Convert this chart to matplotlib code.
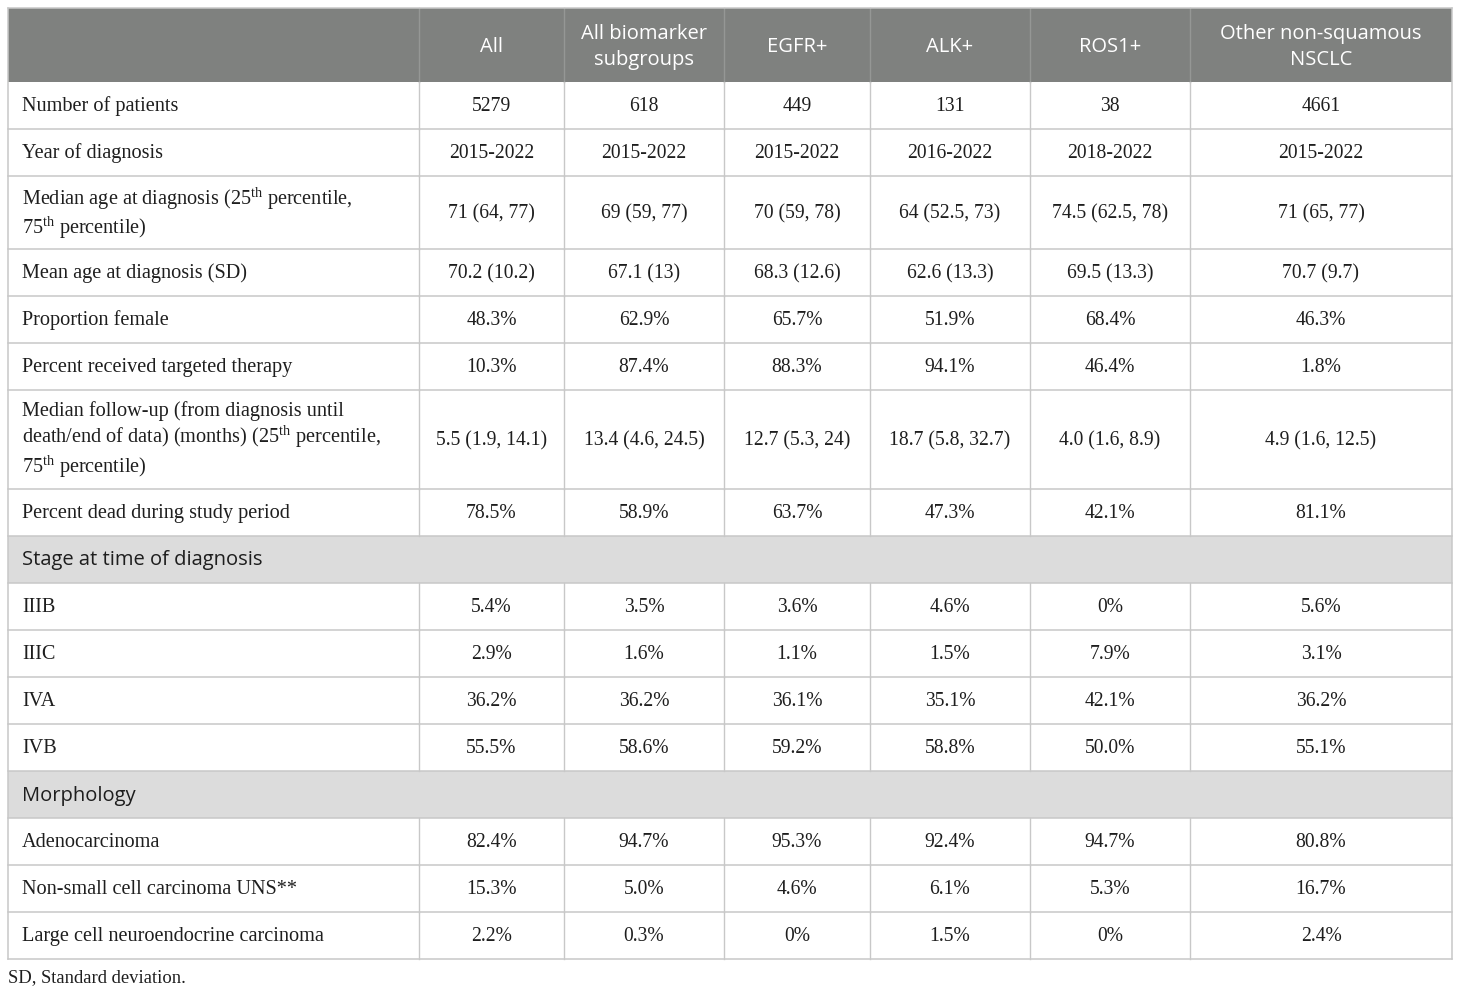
import matplotlib
matplotlib.use("Agg")
import matplotlib.pyplot as plt
from matplotlib.patches import Rectangle

plt.rcParams['mathtext.fontset'] = 'custom'
plt.rcParams['mathtext.rm'] = 'Liberation Serif'
plt.rcParams['mathtext.it'] = 'Liberation Serif:italic'

# ---------------- data ----------------
col_headers = ["All", "All biomarker\nsubgroups", "EGFR+", "ALK+", "ROS1+",
               "Other non-squamous\nNSCLC"]

row_labels = [
    "Number of patients",
    "Year of diagnosis",
    "Median age at diagnosis (25$^{\\mathrm{th}}$ percentile,\n75$^{\\mathrm{th}}$ percentile)",
    "Mean age at diagnosis (SD)",
    "Proportion female",
    "Percent received targeted therapy",
    "Median follow-up (from diagnosis until\ndeath/end of data) (months) (25$^{\\mathrm{th}}$ percentile,\n75$^{\\mathrm{th}}$ percentile)",
    "Percent dead during study period",
    "Stage at time of diagnosis",
    "IIIB",
    "IIIC",
    "IVA",
    "IVB",
    "Morphology",
    "Adenocarcinoma",
    "Non-small cell carcinoma UNS**",
    "Large cell neuroendocrine carcinoma",
]
section_rows = ["Stage at time of diagnosis", "Morphology"]

col_all = ["5279", "2015-2022", "71 (64, 77)", "70.2 (10.2)", "48.3%", "10.3%",
           "5.5 (1.9, 14.1)", "78.5%", None, "5.4%", "2.9%", "36.2%", "55.5%",
           None, "82.4%", "15.3%", "2.2%"]
col_biomarker = ["618", "2015-2022", "69 (59, 77)", "67.1 (13)", "62.9%", "87.4%",
                 "13.4 (4.6, 24.5)", "58.9%", None, "3.5%", "1.6%", "36.2%", "58.6%",
                 None, "94.7%", "5.0%", "0.3%"]
col_egfr = ["449", "2015-2022", "70 (59, 78)", "68.3 (12.6)", "65.7%", "88.3%",
            "12.7 (5.3, 24)", "63.7%", None, "3.6%", "1.1%", "36.1%", "59.2%",
            None, "95.3%", "4.6%", "0%"]
col_alk = ["131", "2016-2022", "64 (52.5, 73)", "62.6 (13.3)", "51.9%", "94.1%",
           "18.7 (5.8, 32.7)", "47.3%", None, "4.6%", "1.5%", "35.1%", "58.8%",
           None, "92.4%", "6.1%", "1.5%"]
col_ros1 = ["38", "2018-2022", "74.5 (62.5, 78)", "69.5 (13.3)", "68.4%", "46.4%",
            "4.0 (1.6, 8.9)", "42.1%", None, "0%", "7.9%", "42.1%", "50.0%",
            None, "94.7%", "5.3%", "0%"]
col_other = ["4661", "2015-2022", "71 (65, 77)", "70.7 (9.7)", "46.3%", "1.8%",
             "4.9 (1.6, 12.5)", "81.1%", None, "5.6%", "3.1%", "36.2%", "55.1%",
             None, "80.8%", "16.7%", "2.4%"]
columns = [col_all, col_biomarker, col_egfr, col_alk, col_ros1, col_other]

footnote = "SD, Standard deviation."

# ---------------- layout ----------------
W, H = 1460, 993
fig = plt.figure(figsize=(W / 100, H / 100), dpi=100)
ax = fig.add_axes([0, 0, 1, 1])
ax.set_xlim(0, W)
ax.set_ylim(H, 0)
ax.axis("off")

col_edges = [8, 419, 564, 724, 870, 1030, 1190, 1452]
top = 8
header_h = 74
line_h = 26
base_h = 21

header_bg = "#7f817f"
section_bg = "#dcdcdc"
grid_c = "#c8c8c8"
text_c = "#1e1e1e"
serif = "Liberation Serif"
sans = "Open Sans"
fs_label = 14.6
fs_value = 14.1
fs_head = 14.5

# header
ax.add_patch(Rectangle((col_edges[0], top), col_edges[-1] - col_edges[0], header_h,
                       facecolor=header_bg, edgecolor="none", zorder=1))
for i, h in enumerate(col_headers):
    cx = (col_edges[i + 1] + col_edges[i + 2]) / 2
    ax.text(cx, top + header_h / 2 + 2, h, ha="center", va="center", color="white",
            family=sans, fontsize=fs_head, linespacing=1.41, zorder=3)
for x in col_edges[1:-1]:
    ax.plot([x, x], [top, top + header_h], color="#959795", lw=1.0, zorder=2)

# body rows
y = top + header_h
row_bounds = [y]
for r, label in enumerate(row_labels):
    nlines = label.count("\n") + 1
    h = base_h + line_h * nlines
    cy = y + h / 2 + 1
    if label in section_rows:
        ax.add_patch(Rectangle((col_edges[0], y), col_edges[-1] - col_edges[0], h,
                               facecolor=section_bg, edgecolor="none", zorder=1))
        ax.text(col_edges[0] + 14, cy, label, ha="left", va="center", color=text_c,
                family=sans, fontsize=fs_head, zorder=3)
    else:
        ax.text(col_edges[0] + 14, cy, label, ha="left", va="center", color=text_c,
                family=serif, fontsize=fs_label, linespacing=1.17, zorder=3)
        for c, vals in enumerate(columns):
            cx = (col_edges[c + 1] + col_edges[c + 2]) / 2
            ax.text(cx, cy, vals[r], ha="center", va="center", color=text_c,
                    family=serif, fontsize=fs_value, zorder=3)
        for x in col_edges[1:-1]:
            ax.plot([x, x], [y, y + h], color=grid_c, lw=1.0, zorder=2)
    y += h
    row_bounds.append(y)

bottom = y
for yb in row_bounds[1:]:
    ax.plot([col_edges[0], col_edges[-1]], [yb, yb], color=grid_c, lw=1.1, zorder=2)
# outer border
ax.plot([col_edges[0], col_edges[0]], [top, bottom], color=grid_c, lw=1.1, zorder=2)
ax.plot([col_edges[-1], col_edges[-1]], [top, bottom], color=grid_c, lw=1.1, zorder=2)
ax.plot([col_edges[0], col_edges[-1]], [top, top], color=grid_c, lw=1.1, zorder=2)

ax.text(col_edges[0], bottom + 19, footnote, ha="left", va="center", color=text_c,
        family=serif, fontsize=13.4)

fig.savefig("out.png", dpi=100)
